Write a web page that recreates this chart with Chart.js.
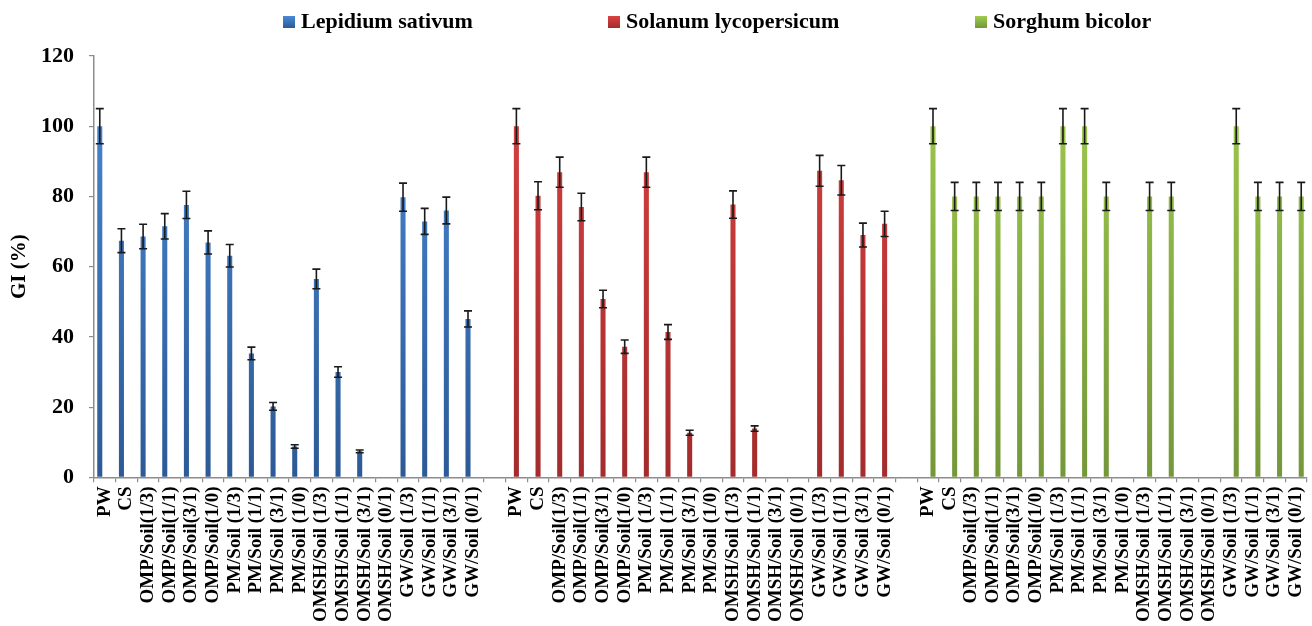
<!DOCTYPE html>
<html>
<head>
<meta charset="utf-8">
<title>GI (%)</title>
<script src="https://cdn.jsdelivr.net/npm/chart.js@4.4.1/dist/chart.umd.min.js"></script>
<style>
  body { margin: 0; background: #fff; }
  #wrap { position: relative; width: 1312px; height: 626px; }
</style>
</head>
<body>
<div id="wrap"><canvas id="giChart"></canvas></div>
<script>
const treatments = ['PW', 'CS', 'OMP/Soil(1/3)', 'OMP/Soil(1/1)', 'OMP/Soil(3/1)', 'OMP/Soil(1/0)',
    'PM/Soil (1/3)', 'PM/Soil (1/1)', 'PM/Soil (3/1)', 'PM/Soil (1/0)',
    'OMSH/Soil (1/3)', 'OMSH/Soil (1/1)', 'OMSH/Soil (3/1)', 'OMSH/Soil (0/1)',
    'GW/Soil (1/3)', 'GW/Soil (1/1)', 'GW/Soil (3/1)', 'GW/Soil (0/1)'];
const species = ['Lepidium sativum', 'Solanum lycopersicum', 'Sorghum bicolor'];

const lepidiumGI = [100, 67.4, 68.6, 71.5, 77.6, 66.9, 63.1, 35.3, 20.2, 8.8, 56.5, 30, 7.4, 0, 79.8, 72.9, 76, 45.1];
const lepidiumSD = [5, 3.4, 3.5, 3.6, 3.9, 3.3, 3.2, 1.8, 1.1, 0.5, 2.8, 1.5, 0.4, 0, 4, 3.7, 3.8, 2.3];
const solanumGI = [100, 80.2, 86.9, 77, 50.8, 37.2, 86.9, 41.4, 12.7, 0, 77.7, 13.9, 0, 0, 87.3, 84.6, 69, 72.2];
const solanumSD = [5, 4, 4.3, 3.9, 2.5, 1.9, 4.3, 2.1, 0.7, 0, 3.9, 0.75, 0, 0, 4.4, 4.2, 3.4, 3.6];
const sorghumGI = [100, 80, 80, 80, 80, 80, 100, 100, 80, 0, 80, 80, 0, 0, 100, 80, 80, 80];
const sorghumSD = [5, 4, 4, 4, 4, 4, 5, 5, 4, 0, 4, 4, 0, 0, 5, 4, 4, 4];
const yTicks = [0, 20, 40, 60, 80, 100, 120];

// bar colours: top / bottom of the gradient
const colorsTop = ['#4a8ad6', '#db4242', '#a0cc4e'];
const colorsBottom = ['#2c5a96', '#a32c2c', '#74973a'];
const legendX = [283, 608, 975];

// three blocks of treatments with an empty slot between them
const labels = [];
for (let g = 0; g < 3; g++) {
    labels.push(...treatments);
    if (g < 2) labels.push('');
}

function spread(values, group) {
    const out = [];
    for (let g = 0; g < 3; g++) {
        values.forEach(v => out.push(g === group ? v : null));
        if (g < 2) out.push(null);
    }
    return out;
}

function barGradient(i) {
    return function(context) {
        const area = context.chart.chartArea;
        if (!area) return colorsTop[i];
        const g = context.chart.ctx.createLinearGradient(0, area.top, 0, area.bottom);
        g.addColorStop(0, colorsTop[i]);
        g.addColorStop(1, colorsBottom[i]);
        return g;
    };
}

const errorBars = {
    id: 'errorBars',
    afterDatasetsDraw(chart) {
        const ctx = chart.ctx;
        const y = chart.scales.y;
        ctx.save();
        ctx.strokeStyle = '#1a1a1a';
        ctx.lineWidth = 1.6;
        chart.data.datasets.forEach((ds, di) => {
            chart.getDatasetMeta(di).data.forEach((bar, i) => {
                const v = ds.data[i];
                const e = ds.errors[i];
                if (v == null || !e) return;
                const top = y.getPixelForValue(v + e);
                const bot = y.getPixelForValue(v - e);
                ctx.beginPath();
                ctx.moveTo(bar.x, top); ctx.lineTo(bar.x, bot);
                ctx.moveTo(bar.x - 4, top); ctx.lineTo(bar.x + 4, top);
                ctx.moveTo(bar.x - 4, bot); ctx.lineTo(bar.x + 4, bot);
                ctx.stroke();
            });
        });
        ctx.restore();
    }
};

const topLegend = {
    id: 'topLegend',
    afterDraw(chart) {
        const ctx = chart.ctx;
        ctx.save();
        ctx.font = 'bold 22px "Liberation Serif"';
        ctx.textBaseline = 'middle';
        chart.data.datasets.forEach((ds, i) => {
            const x = legendX[i];
            const g = ctx.createLinearGradient(0, 16, 0, 28);
            g.addColorStop(0, colorsTop[i]);
            g.addColorStop(1, colorsBottom[i]);
            ctx.fillStyle = g;
            ctx.fillRect(x, 16, 12, 12);
            ctx.fillStyle = '#000';
            ctx.fillText(ds.label, x + 18, 22);
        });
        ctx.restore();
    }
};

const serif = 'Liberation Serif';

new Chart(document.getElementById('giChart'), {
    type: 'bar',
    data: {
        labels: labels,
        datasets: [
            { label: species[0], data: spread(lepidiumGI, 0), errors: spread(lepidiumSD, 0), backgroundColor: barGradient(0) },
            { label: species[1], data: spread(solanumGI, 1), errors: spread(solanumSD, 1), backgroundColor: barGradient(1) },
            { label: species[2], data: spread(sorghumGI, 2), errors: spread(sorghumSD, 2), backgroundColor: barGradient(2) }
        ]
    },
    options: {
        responsive: true,
        maintainAspectRatio: false,
        animation: false,
        layout: { padding: { top: 56, right: 5, bottom: 0, left: 0 } },
        datasets: { bar: { categoryPercentage: 0.7, barPercentage: 1.0 } },
        plugins: {
            legend: { display: false },
            tooltip: { enabled: false }
        },
        scales: {
            x: {
                // labels are vertical, so no extra side padding is needed
                afterFit(scale) { scale.paddingLeft = 0; scale.paddingRight = 0; },
                grid: { drawOnChartArea: false, offset: true, tickLength: 5, color: '#8c8c8c', lineWidth: 1.2 },
                border: { color: '#8c8c8c', width: 1.5 },
                ticks: {
                    autoSkip: false,
                    minRotation: 90,
                    maxRotation: 90,
                    padding: 4,
                    color: '#000',
                    font: { family: serif, size: 19, weight: 'bold' }
                }
            },
            y: {
                min: 0,
                max: 120,
                afterBuildTicks(scale) { scale.ticks = yTicks.map(v => ({ value: v })); },
                afterFit(scale) { scale.width = 94; },
                grid: { drawOnChartArea: false, tickLength: 5, color: '#8c8c8c', lineWidth: 1.2 },
                border: { color: '#8c8c8c', width: 1.5 },
                ticks: {
                    padding: 15,
                    color: '#000',
                    font: { family: serif, size: 22, weight: 'bold' }
                },
                title: {
                    display: true,
                    text: 'GI (%)',
                    color: '#000',
                    padding: { top: 7, bottom: 0 },
                    font: { family: serif, size: 21, weight: 'bold' }
                }
            }
        }
    },
    plugins: [errorBars, topLegend]
});
</script>
</body>
</html>
